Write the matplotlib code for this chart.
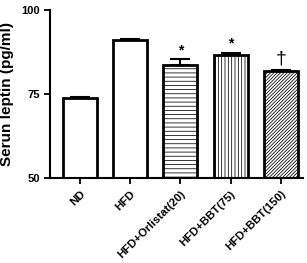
import matplotlib
matplotlib.use("Agg")
import matplotlib.pyplot as plt

categories = ["ND", "HFD", "HFD+Orlistat(20)", "HFD+BBT(75)", "HFD+BBT(150)"]
values = [73.8, 90.9, 83.5, 86.5, 81.8]
errors = [0.3, 0.5, 1.8, 0.7, 0.3]
hatches = ["", "", "----", "|||||", "//////////"]
marks = ["", "", "*", "*", "\u2020"]

plt.rcParams['font.family'] = ['Liberation Sans', 'DejaVu Sans']
plt.rcParams['hatch.linewidth'] = 0.55
plt.rcParams['hatch.color'] = '#666666'

fig = plt.figure(figsize=(3.07, 2.63), dpi=100)
ax = fig.add_axes([0.163, 0.323, 0.825, 0.64])
x = list(range(len(categories)))
for i in x:
    ax.bar(i, values[i] - 50, bottom=50, width=0.68, color='white', edgecolor='black',
           linewidth=2.0, hatch=hatches[i], zorder=2)
    ax.errorbar(i, values[i], yerr=[[0], [errors[i]]], fmt='none', ecolor='black',
                elinewidth=1.5, capsize=7, capthick=1.5, zorder=3)
    if marks[i]:
        ax.text(i, values[i] + errors[i] + 0.6, marks[i], ha='center', va='bottom',
                fontsize=10 if marks[i] == '*' else 14, fontweight='bold' if marks[i] == '*' else 'normal')

ax.set_ylim(50, 100)
ax.set_xlim(-0.6, 4.45)
ax.set_yticks([50, 75, 100])
ax.set_xticks(x)
ax.set_xticklabels(categories, rotation=45, ha='right', rotation_mode='anchor',
                   fontsize=8.2, fontweight='bold')
for lab in ax.get_yticklabels():
    lab.set_fontweight('bold')
    lab.set_fontsize(8)
ax.set_ylabel("Serun leptin (pg/ml)", fontsize=11, fontweight='bold', labelpad=5)
for s in ['top', 'right']:
    ax.spines[s].set_visible(False)
for s in ['left', 'bottom']:
    ax.spines[s].set_linewidth(1.5)
ax.tick_params(axis='both', direction='out', width=1.3, length=4)
fig.savefig("out.png", dpi=100)
